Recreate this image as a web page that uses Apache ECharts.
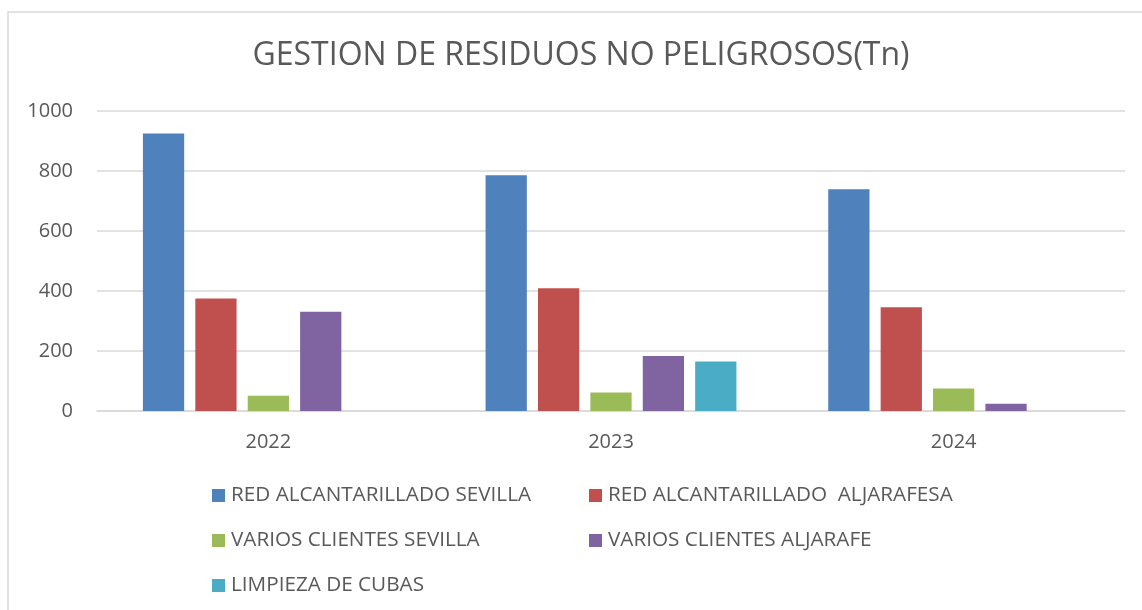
<!DOCTYPE html>
<html>
<head>
<meta charset="utf-8">
<script src="https://cdn.jsdelivr.net/npm/echarts@6/dist/echarts.min.js"></script>
<style>
  html, body { margin: 0; padding: 0; background: #ffffff; }
  #chart { width: 1142px; height: 610px; }
</style>
</head>
<body>
<div id="chart"></div>
<script>
// Years on the category axis
const years = ['2022', '2023', '2024'];

// Tonnes of non-hazardous waste managed, per source
const redSevilla = [925, 786, 739];
const redAljarafesa = [375, 409, 346];
const variosSevilla = [51, 62, 75];
const variosAljarafe = [331, 183, 24];
const limpiezaCubas = [null, 165, null];

const seriesNames = [
  'RED ALCANTARILLADO SEVILLA',
  'RED ALCANTARILLADO  ALJARAFESA',
  'VARIOS CLIENTES SEVILLA',
  'VARIOS CLIENTES ALJARAFE',
  'LIMPIEZA DE CUBAS'
];
const seriesValues = [redSevilla, redAljarafesa, variosSevilla, variosAljarafe, limpiezaCubas];
const seriesColors = ['#4f81bd', '#c0504d', '#9bbb59', '#8064a2', '#4bacc6'];

const textColor = '#595959';
const gridColor = '#d9d9d9';
const fontFamily = '"Open Sans", "Noto Sans", sans-serif';

// Legend laid out in two columns, one legend block per entry
const legendSlots = [
  { left: 212, top: 485 },
  { left: 589, top: 485 },
  { left: 212, top: 530 },
  { left: 589, top: 530 },
  { left: 212, top: 575 }
];

const chart = echarts.init(document.getElementById('chart'), null, { renderer: 'canvas' });

chart.setOption({
  backgroundColor: '#ffffff',
  animation: false,
  color: seriesColors,
  textStyle: { fontFamily: fontFamily, color: textColor },
  title: {
    text: 'GESTION DE RESIDUOS NO PELIGROSOS(Tn)',
    left: 581,
    top: 40,
    textAlign: 'center',
    padding: 0,
    textStyle: {
      fontFamily: fontFamily,
      fontSize: 32,
      fontWeight: 'normal',
      color: textColor
    }
  },
  graphic: [{
    type: 'rect',
    shape: { x: 8, y: 12, width: 1300, height: 800 },
    style: { fill: 'none', stroke: gridColor, lineWidth: 1.5 },
    silent: true,
    z: -1
  }],
  legend: legendSlots.map((slot, i) => ({
    data: [seriesNames[i]],
    left: slot.left,
    top: slot.top,
    padding: 0,
    itemWidth: 13,
    itemHeight: 13,
    icon: 'rect',
    selectedMode: false,
    textStyle: { fontFamily: fontFamily, fontSize: 20.7, color: textColor, padding: [0, 0, 0, 1] }
  })),
  grid: {
    left: 97,
    right: 17,
    top: 111,
    bottom: 199,
    containLabel: false
  },
  xAxis: {
    type: 'category',
    data: years,
    axisTick: { show: false },
    axisLine: { show: true, lineStyle: { color: gridColor, width: 1.5 } },
    axisLabel: { fontFamily: fontFamily, fontSize: 20, color: textColor, margin: 21 }
  },
  yAxis: {
    type: 'value',
    min: 0,
    max: 1000,
    interval: 200,
    axisLine: { show: false },
    axisTick: { show: false },
    splitLine: { lineStyle: { color: gridColor, width: 1.5 } },
    axisLabel: {
      fontFamily: fontFamily,
      fontSize: 20,
      color: textColor,
      margin: 24,
      formatter: (v) => String(v)
    }
  },
  series: seriesNames.map((name, i) => ({
    name: name,
    type: 'bar',
    data: seriesValues[i],
    barGap: '27%',
    barCategoryGap: '26.8%',
    itemStyle: { color: seriesColors[i] }
  }))
});
</script>
</body>
</html>
